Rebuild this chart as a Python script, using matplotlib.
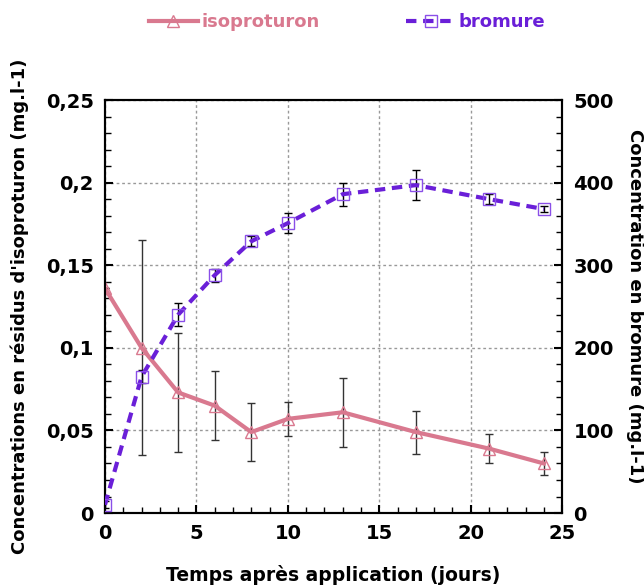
import numpy as np
import matplotlib
matplotlib.use('Agg')
import matplotlib.pyplot as plt
from matplotlib.ticker import MultipleLocator, FuncFormatter

# Data
days_iso = [0, 2, 4, 6, 8, 10, 13, 17, 21, 24]
isoproturon = [0.136, 0.100, 0.073, 0.065, 0.049, 0.057, 0.061, 0.049, 0.039, 0.030]
iso_err = [0.0, 0.065, 0.036, 0.021, 0.0175, 0.0105, 0.021, 0.013, 0.009, 0.007]

days_br = [0, 2, 4, 6, 8, 10, 13, 17, 21, 24]
bromure = [10, 165, 240, 288, 329, 351, 386, 397, 380, 368]
br_err = [4, 8, 14, 8, 6, 12, 14, 18, 6, 4]

pink = '#D9798F'
purple = '#6A1FD8'

fig = plt.figure(figsize=(6.44, 5.85), dpi=100)
ax1 = fig.add_axes([0.163, 0.123, 0.710, 0.706])
ax2 = ax1.twinx()

# isoproturon on the left axis
ax1.errorbar(days_iso, isoproturon, yerr=iso_err, fmt='none', ecolor='#333333',
             elinewidth=1, capsize=3, capthick=1, zorder=3)
l1, = ax1.plot(days_iso, isoproturon, color=pink, lw=3, marker='^', ms=9,
               mfc='none', mec=pink, mew=1, zorder=4, label='isoproturon')
ax1.set_xlim(0, 25)
ax1.set_ylim(0, 0.25)
ax1.xaxis.set_major_locator(MultipleLocator(5))
ax1.xaxis.set_minor_locator(MultipleLocator(1))
ax1.yaxis.set_major_locator(MultipleLocator(0.05))
ax1.yaxis.set_minor_locator(MultipleLocator(0.01))
ax1.yaxis.set_major_formatter(FuncFormatter(
    lambda v, p: '0' if v == 0 else ('%g' % round(v, 2)).replace('.', ',')))
ax1.grid(True, which='major', color='#999999', linestyle=(0, (2, 2)), lw=1)
ax1.set_axisbelow(True)

# bromure on the right axis
ax2.errorbar(days_br, bromure, yerr=br_err, fmt='none', ecolor='black',
             elinewidth=1, capsize=3, capthick=1, zorder=3)
l2, = ax2.plot(days_br, bromure, color=purple, lw=3, ls=(0, (2.5, 1.6)), marker='s',
               ms=8.5, mfc='none', mec='#8A4FE8', mew=1, zorder=4, label='bromure')
ax2.set_ylim(0, 500)
ax2.yaxis.set_major_locator(MultipleLocator(100))
ax2.yaxis.set_minor_locator(MultipleLocator(20))

for ax in (ax1, ax2):
    ax.tick_params(which='both', direction='in', labelsize=14)
    ax.tick_params(which='major', length=6, width=1.5)
    ax.tick_params(which='minor', length=4, width=1)
    for lab in ax.get_xticklabels() + ax.get_yticklabels():
        lab.set_fontweight('bold')
    for s in ax.spines.values():
        s.set_linewidth(1.5)
ax1.tick_params(axis='x', pad=8)
ax1.tick_params(axis='y', pad=8)
ax2.tick_params(axis='y', pad=8)

ax1.set_xlabel('Temps après application (jours)', fontsize=13.5, fontweight='bold', labelpad=16)
ax1.set_ylabel("Concentrations en résidus d'isoproturon (mg.l-1)", fontsize=13,
               fontweight='bold', labelpad=12)
ax2.set_ylabel('Concentration en bromure (mg.l-1)', fontsize=13, fontweight='bold',
               rotation=270, labelpad=22)

leg = fig.legend(handles=[l1, l2], loc='center', bbox_to_anchor=(0.539, 0.962),
                 ncol=2, frameon=False, fontsize=13, handlelength=2.7,
                 columnspacing=4.8, handletextpad=0.2)
for txt, c in zip(leg.get_texts(), [pink, purple]):
    txt.set_color(c)
    txt.set_fontweight('bold')

plt.savefig('out.png', dpi=100)
